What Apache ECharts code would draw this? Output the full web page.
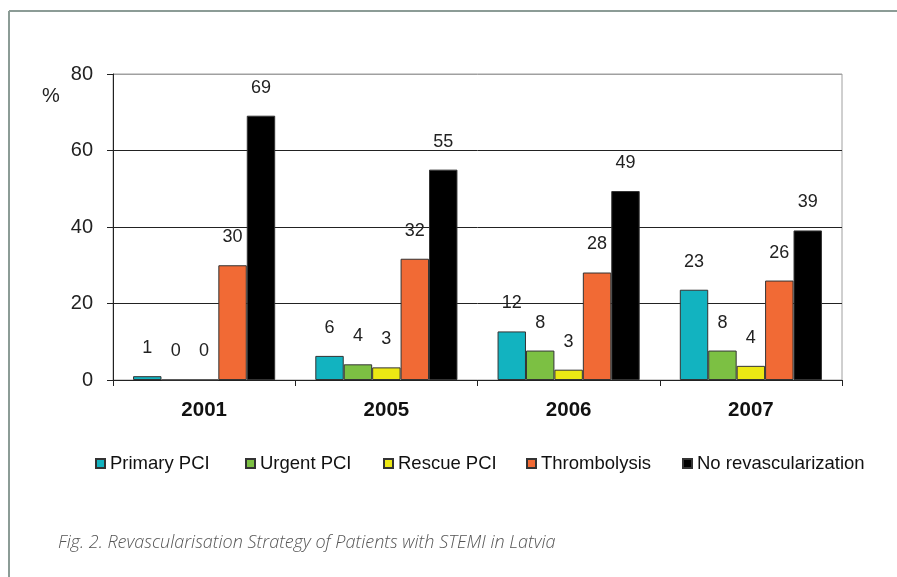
<!DOCTYPE html>
<html>
<head>
<meta charset="utf-8">
<script src="https://cdn.jsdelivr.net/npm/echarts@6/dist/echarts.min.js"></script>
<style>
  html, body { margin: 0; padding: 0; background: #fff; }
  #chart { width: 897px; height: 577px; }
</style>
</head>
<body>
<div id="chart"></div>
<script>
// years on the x axis
var years = ['2001', '2005', '2006', '2007'];

// bar heights (%)
var primaryPCI = [1.0, 6.3, 12.7, 23.6];
var urgentPCI = [0, 4.1, 7.7, 7.7];
var rescuePCI = [0, 3.3, 2.7, 3.7];
var thrombolysis = [30.0, 31.7, 28.1, 26.0];
var noRevasc = [69.1, 55.0, 49.4, 39.1];

// numbers printed above the bars
var primaryLbl = ['1', '6', '12', '23'];
var urgentLbl = ['0', '4', '8', '8'];
var rescueLbl = ['0', '3', '3', '4'];
var thrombLbl = ['30', '32', '28', '26'];
var noRevascLbl = ['69', '55', '49', '39'];

var yTicks = [0, 20, 40, 60, 80];

var FONT = '"Liberation Sans", Arial, sans-serif';

var chart = echarts.init(document.getElementById('chart'));

function bar(name, data, labels, color) {
  return {
    name: name,
    type: 'bar',
    data: data,
    barGap: 0,
    barCategoryGap: '22%',
    itemStyle: { color: color, borderColor: '#333', borderWidth: 1 },
    label: {
      show: true,
      position: 'top',
      distance: 19,
      fontFamily: FONT,
      fontSize: 18,
      color: '#222',
      formatter: function (p) { return labels[p.dataIndex]; }
    }
  };
}

// one legend per item so each sits where the original puts it
var legendLeft = [95, 245, 383, 526, 682];
var names = ['Primary PCI', 'Urgent PCI', 'Rescue PCI', 'Thrombolysis', 'No revascularization'];
var legends = names.map(function (n, i) {
  return {
    data: [n],
    left: legendLeft[i],
    top: 454,
    padding: 0,
    icon: 'rect',
    itemWidth: 9,
    itemHeight: 9,
    textStyle: { fontFamily: FONT, fontSize: 18.5, color: '#111' }
  };
});

var option = {
  animation: false,
  backgroundColor: '#fff',
  grid: {
    left: 113, top: 74, width: 729, height: 306,
    show: true, borderColor: '#a0a0a0', borderWidth: 1
  },
  legend: legends,
  xAxis: {
    type: 'category',
    data: years,
    axisLine: { lineStyle: { color: '#222', width: 1 } },
    axisTick: { show: true, length: 6, lineStyle: { color: '#222' } },
    axisLabel: {
      margin: 20, fontFamily: FONT, fontSize: 20.5,
      fontWeight: 'bold', color: '#111'
    }
  },
  yAxis: {
    type: 'value',
    min: yTicks[0],
    max: yTicks[yTicks.length - 1],
    interval: 20,
    axisLine: { show: true, lineStyle: { color: '#222', width: 1 } },
    axisTick: { show: true, length: 6, lineStyle: { color: '#222' } },
    axisLabel: {
      margin: 20, fontFamily: FONT, fontSize: 20, color: '#222'
    },
    splitLine: {
      show: true,
      lineStyle: { color: ['#222', '#222', '#222', '#222', '#a0a0a0'], width: 1 }
    }
  },
  series: [
    bar('Primary PCI', primaryPCI, primaryLbl, '#12b3c0'),
    bar('Urgent PCI', urgentPCI, urgentLbl, '#7cc043'),
    bar('Rescue PCI', rescuePCI, rescueLbl, '#ece814'),
    bar('Thrombolysis', thrombolysis, thrombLbl, '#f16a35'),
    bar('No revascularization', noRevasc, noRevascLbl, '#000000')
  ],
  graphic: [
    { type: 'line', shape: { x1: 9, y1: 11, x2: 897, y2: 11 }, style: { stroke: '#8c9c96', lineWidth: 2 } },
    { type: 'line', shape: { x1: 9, y1: 11, x2: 9, y2: 577 }, style: { stroke: '#8c9c96', lineWidth: 2 } },
    {
      type: 'text', left: 42, top: 86,
      style: { text: '%', font: '20px "Liberation Sans", Arial, sans-serif', fill: '#222' }
    },
    {
      type: 'text', left: 58, top: 534,
      style: {
        text: 'Fig. 2. Revascularisation Strategy of Patients with STEMI in Latvia',
        font: 'italic 300 18px "Open Sans"', fill: '#555'
      }
    }
  ]
};

chart.setOption(option);
</script>
</body>
</html>
